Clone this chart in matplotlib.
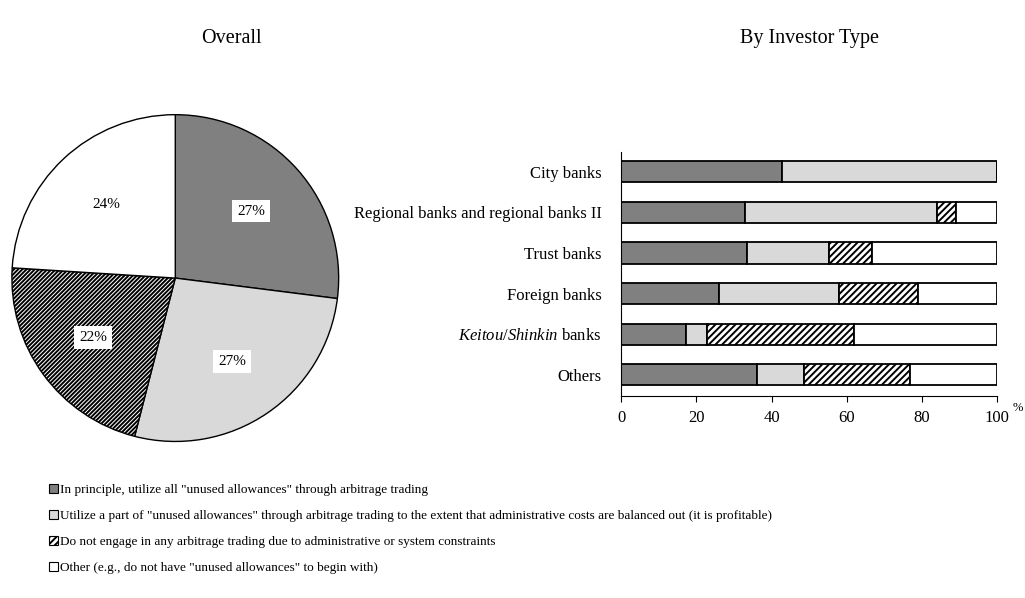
import matplotlib
matplotlib.use("Agg")
import matplotlib.pyplot as plt
from matplotlib.patches import Patch
import numpy as np

plt.rcParams['font.family'] = ['Liberation Serif', 'DejaVu Serif']
plt.rcParams['mathtext.fontset'] = 'custom'
plt.rcParams['mathtext.rm'] = 'Liberation Serif'
plt.rcParams['mathtext.it'] = 'Liberation Serif:italic'
plt.rcParams['hatch.linewidth'] = 1.4

# Data
overall = [27, 27, 22, 24]

investor_types = ["City banks", "Regional banks and regional banks II", "Trust banks",
                  "Foreign banks", r"$\mathit{Keitou/Shinkin}$ banks", "Others"]
all_arb = [42.7, 33.0, 33.4, 26.1, 17.3, 36.0]
part_arb = [57.3, 50.9, 21.9, 31.9, 5.4, 12.6]
no_arb = [0.0, 5.2, 11.3, 20.9, 39.2, 28.2]
other = [0.0, 10.9, 33.4, 21.1, 38.1, 23.2]

legend_labels = [
    'In principle, utilize all "unused allowances" through arbitrage trading',
    'Utilize a part of "unused allowances" through arbitrage trading to the extent that administrative costs are balanced out (it is profitable)',
    'Do not engage in any arbitrage trading due to administrative or system constraints',
    'Other (e.g., do not have "unused allowances" to begin with)',
]

colors = ["#808080", "#d9d9d9", "white", "white"]
hatches = [None, None, "/////", None]

fig = plt.figure(figsize=(10.25, 5.98), dpi=100)

# pie
ax1 = fig.add_axes([0.01, 0.259, 0.322, 0.552])
wedges, texts, autotexts = ax1.pie(overall, colors=colors, startangle=90, counterclock=False,
                                   autopct="%d%%", pctdistance=0.62,
                                   wedgeprops=dict(edgecolor="black", linewidth=1.0),
                                   textprops=dict(fontsize=11))
wedges[2].set_hatch("////////")
for i, t in enumerate(autotexts):
    if i < 3:
        t.set_bbox(dict(facecolor="white", edgecolor="none", pad=3.5))
ax1.set_aspect("equal")
ax1.set_xlim(-1.01, 1.01)
ax1.set_ylim(-1.01, 1.01)

# stacked bars
ax2 = fig.add_axes([0.606, 0.338, 0.367, 0.408])
y = np.arange(len(investor_types))[::-1]
left = np.zeros(len(investor_types))
for vals, c, h in zip([all_arb, part_arb, no_arb, other], colors, hatches):
    ax2.barh(y, vals, left=left, height=0.52, color=c, edgecolor="black",
             linewidth=1.3, hatch=h)
    left += np.array(vals)

ax2.set_xlim(0, 100)
ax2.set_ylim(-0.52, 5.49)
ax2.set_yticks(y)
ax2.set_yticklabels(investor_types, fontsize=12)
ax2.set_xticks([0, 20, 40, 60, 80, 100])
ax2.tick_params(axis="y", length=0, pad=14)
ax2.tick_params(axis="x", labelsize=12, direction="out", length=4, pad=6)
for s in ["top", "right"]:
    ax2.spines[s].set_visible(False)

fig.text(0.993, 0.318, "%", fontsize=9, ha="center", va="center")

fig.text(0.226, 0.935, "Overall", fontsize=14.5, ha="center", va="center")
fig.text(0.79, 0.935, "By Investor Type", fontsize=14.5, ha="center", va="center")

handles = [Patch(facecolor=c, edgecolor="black", hatch=h, linewidth=0.8)
           for c, h in zip(colors, hatches)]
fig.legend(handles, legend_labels, loc="lower left", bbox_to_anchor=(0.036, 0.02),
           frameon=False, fontsize=9.5, handlelength=0.7, handleheight=0.7,
           handletextpad=0.15, labelspacing=1.05)

fig.savefig("out.png", dpi=100)
